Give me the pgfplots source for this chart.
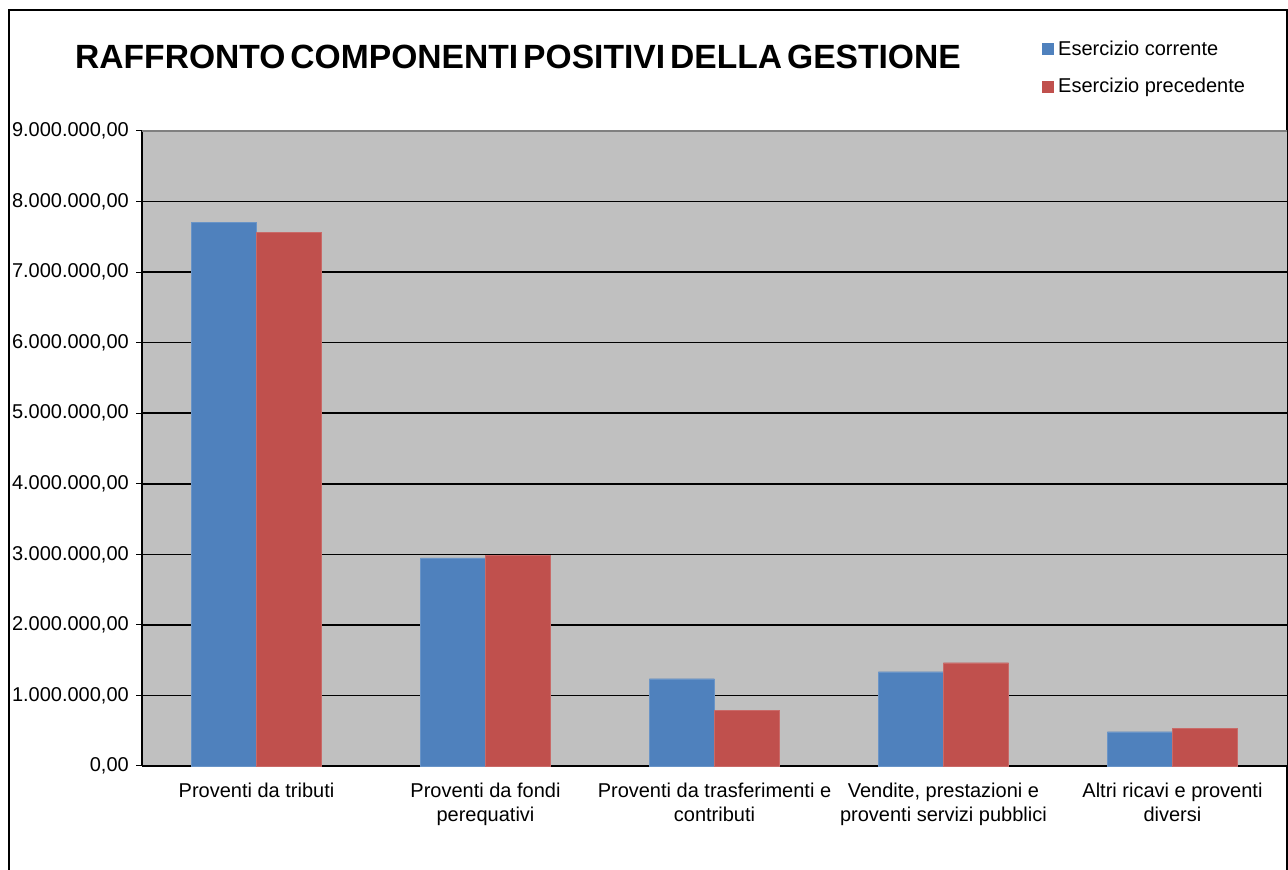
\documentclass[border=0pt]{standalone}
\usepackage{pgfplots}
\pgfplotsset{compat=1.18}
\usepackage{fontspec}
\setmainfont{Liberation Sans}

\definecolor{barblue}{HTML}{4F81BD}
\definecolor{barred}{HTML}{C0504D}
\definecolor{plotbg}{HTML}{C0C0C0}
\definecolor{topline}{HTML}{808080}

\pgfplotstableread{
x  corrente  precedente
0  7710000   7560000
1  2950000   2985000
2  1237000    789000
3  1336000   1464000
4   486000    534000
}\componenti

\begin{document}
\begin{tikzpicture}[x=1pt,y=1pt]
\useasboundingbox (0,0) rectangle (1288,870);
% chart frame
\draw[line width=2pt,black] (9,-2) -- (9,860) -- (1287,860) -- (1287,-2);

\begin{axis}[
  at={(142pt,104pt)}, anchor=south west,
  scale only axis, width=1145pt, height=635pt,
  xmin=-0.5, xmax=4.5, ymin=0, ymax=9000000,
  axis background/.style={fill=plotbg},
  axis x line*=bottom, axis y line*=left,
  axis line style={black, line width=2pt},
  ymajorgrids, grid style={black, line width=1.6pt},
  ytick={0,1000000,...,9000000},
  yticklabels={{0,00},{1.000.000,00},{2.000.000,00},{3.000.000,00},{4.000.000,00},
    {5.000.000,00},{6.000.000,00},{7.000.000,00},{8.000.000,00},{9.000.000,00}},
  scaled y ticks=false,
  tick align=outside, major tick length=6pt,
  tick style={black, line width=1pt},
  yticklabel style={font=\fontsize{20}{24}\selectfont, inner sep=0pt, xshift=-7pt},
  xtick={0,1,2,3,4},
  xticklabels={Proventi da tributi,
    {Proventi da fondi\\perequativi},
    {Proventi da trasferimenti e\\contributi},
    {Vendite, prestazioni e\\proventi servizi pubblici},
    {Altri ricavi e proventi\\diversi}},
  major x tick style={draw=none},
  xticklabel style={font=\fontsize{20}{24}\selectfont, align=center, inner sep=0pt, yshift=-11pt},
  extra x ticks={0.5,1.5,2.5,3.5},
  extra x tick labels={},
  extra x tick style={major x tick style={black, line width=1pt}},
  clip=false,
  after end axis/.code={
    \draw[topline, line width=2pt] (rel axis cs:0,1) -- (rel axis cs:1,1);
  },
]
\addplot[ybar, bar width=0.284, bar shift=-0.142, fill=barblue, draw=barblue!85!white]
  table[x=x, y=corrente] {\componenti};
\addplot[ybar, bar width=0.284, bar shift=0.142, fill=barred, draw=barred!85!white]
  table[x=x, y=precedente] {\componenti};
\end{axis}

% title
\node[anchor=base west, inner sep=0pt] at (75,801)
  {\fontsize{33.6}{40}\selectfont\bfseries RAFFRONTO\hspace{5pt}COMPONENTI\hspace{5pt}POSITIVI\hspace{5pt}DELLA\hspace{5pt}GESTIONE};

% legend
\fill[barblue] (1042,815) rectangle (1054,827);
\node[anchor=base west, inner sep=0pt] at (1058,814) {\fontsize{20}{24}\selectfont Esercizio corrente};
\fill[barred] (1042,777) rectangle (1054,789);
\node[anchor=base west, inner sep=0pt] at (1058,777) {\fontsize{20}{24}\selectfont Esercizio precedente};
\end{tikzpicture}
\end{document}
